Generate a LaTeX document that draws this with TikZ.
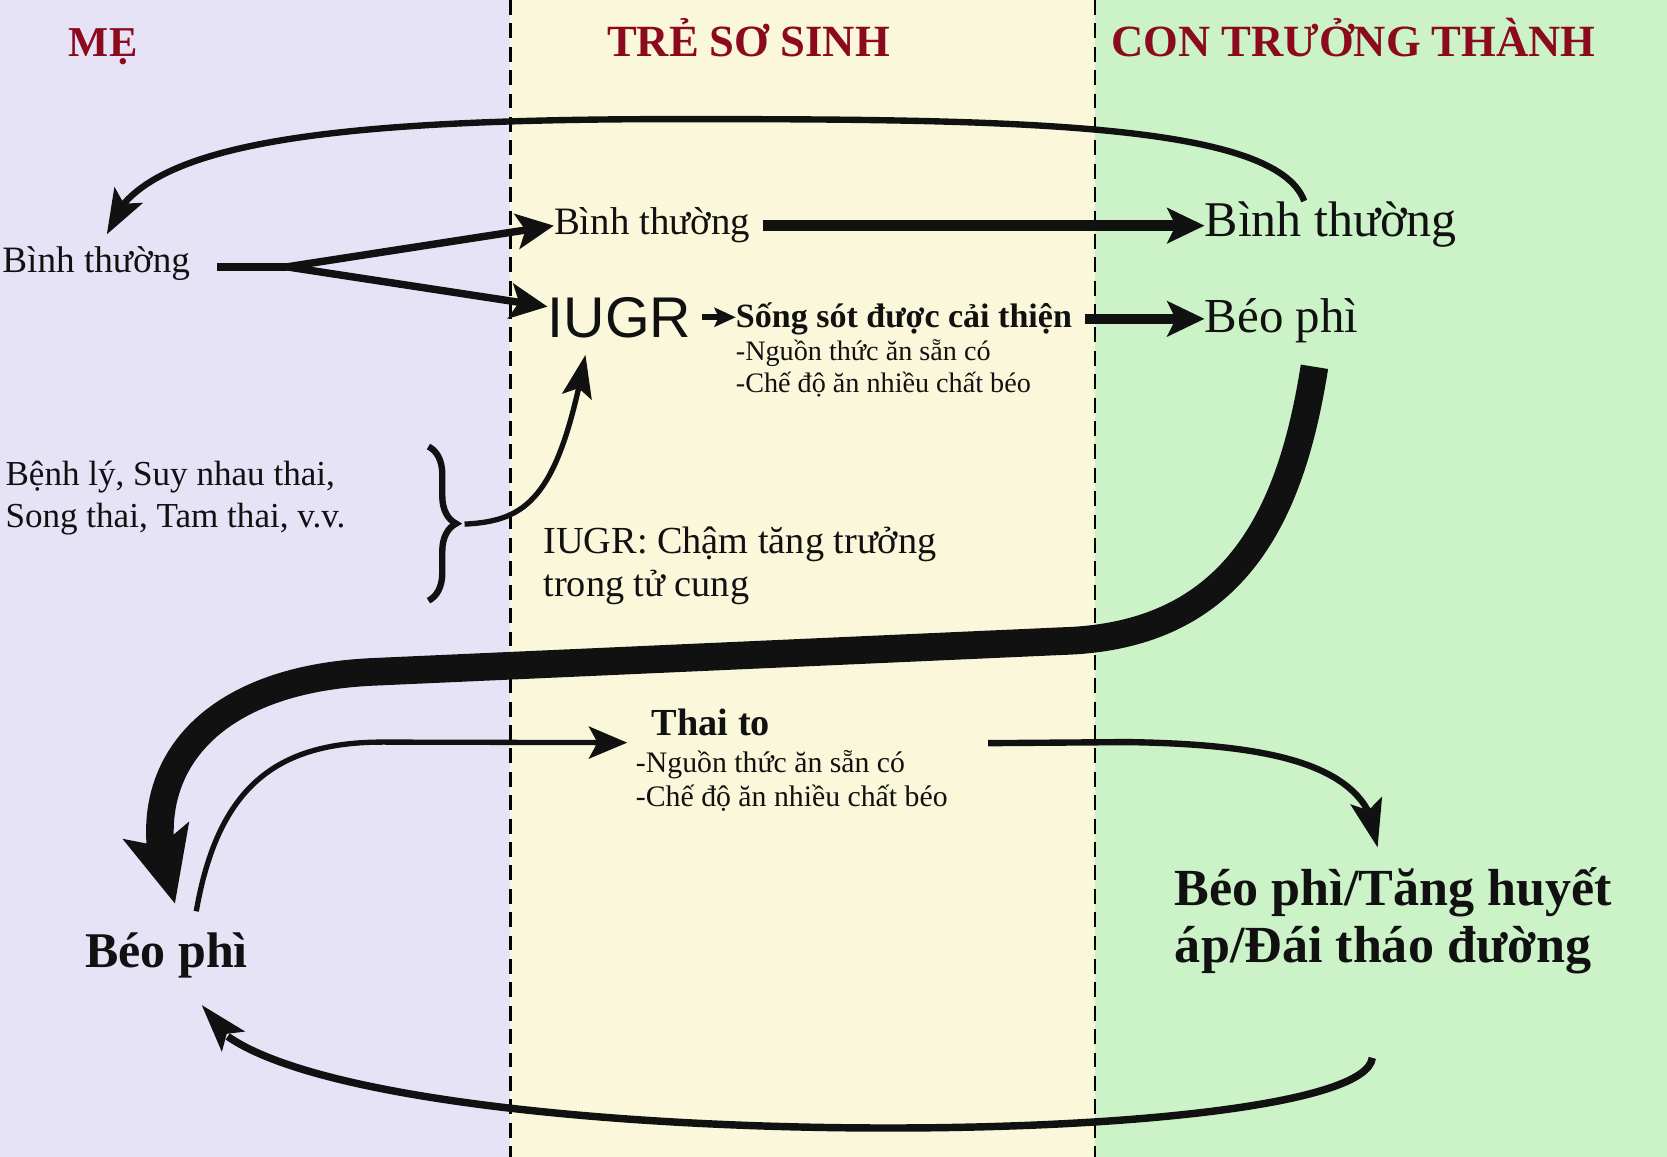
\documentclass[tikz,border=0pt]{standalone}
\usepackage{fontspec}
\setmainfont{Liberation Serif}
\newfontfamily\iugrfont{Liberation Sans}
\usetikzlibrary{arrows.meta,bending,decorations.pathreplacing}
\definecolor{momBg}{HTML}{E6E3F7}
\definecolor{babyBg}{HTML}{FAF7DA}
\definecolor{adultBg}{HTML}{CCF2C8}
\definecolor{titleRed}{HTML}{8B0A1E}
\definecolor{ink}{HTML}{111111}

\begin{document}
\begin{tikzpicture}[x=1pt,y=-1pt,
    every node/.style={inner sep=0pt,text=ink},
    heading/.style={anchor=base,text=titleRed,font=\fontsize{42}{48}\selectfont\bfseries},
    txt/.style={anchor=base west,align=left},
    divider/.style={line width=2.5pt,dash pattern=on 14pt off 8pt},
    link/.style={draw=ink,line width=#1,-{Stealth[length=35pt,width=33pt,inset=8pt]}},
    link/.default=7pt,
    curve/.style={draw=ink,line width=#1,-{Stealth[length=42pt,width=30pt,inset=9pt]}},
    curve/.default=6pt,
    heavy/.style={draw=ink,line width=26pt,-{Stealth[length=70pt,width=62pt,inset=14pt]}}]
  \useasboundingbox (0,0) rectangle (1568,1088);

  % three columns
  \fill[momBg] (0,0) rectangle (480,1088);
  \fill[babyBg] (480,0) rectangle (1030,1088);
  \fill[adultBg] (1030,0) rectangle (1568,1088);
  \draw[divider] (480,0) -- (480,1088);
  \draw[divider] (1030,0) -- (1030,1088);

  \node[heading,font=\fontsize{40}{48}\selectfont\bfseries] (momTitle) at (97,53) {MẸ};
  \node[heading] (babyTitle) at (704,53) {TRẺ SƠ SINH};
  \node[heading] (adultTitle) at (1273,53) {CON TRƯỞNG THÀNH};

  % multi-line nodes sit on their last baseline
  \node[txt,font=\fontsize{35}{40}\selectfont] (momNormal) at (2,256) {Bình thường};
  \node[txt,font=\fontsize{36.5}{40}\selectfont] (babyNormal) at (521,221) {Bình thường};
  \node[txt,font=\iugrfont\fontsize{54}{60}\selectfont] (iugr) at (515,317) {IUGR};
  \node[txt,font=\fontsize{32}{36}\selectfont\bfseries] (survive) at (692,308) {Sống sót được cải thiện};
  \node[txt,font=\fontsize{26.5}{30}\selectfont] (surviveList) at (692,369) {-Nguồn thức ăn sẵn có\\-Chế độ ăn nhiều chất béo};
  \node[txt,font=\fontsize{47}{52}\selectfont] (adultNormal) at (1133,222) {Bình thường};
  \node[txt,font=\fontsize{46}{52}\selectfont] (adultObese) at (1133,313) {Béo phì};
  \node[txt,font=\fontsize{33}{39}\selectfont] (causes) at (5,496) {Bệnh lý, Suy nhau thai,\\Song thai, Tam thai, v.v.};
  \node[txt,font=\fontsize{36}{40}\selectfont] (iugrDef) at (511,561) {IUGR: Chậm tăng trưởng\\trong tử cung};
  \node[txt,font=\fontsize{36}{40}\selectfont\bfseries] (bigBaby) at (613,692) {Thai to};
  \node[txt,font=\fontsize{28}{32}\selectfont] (bigBabyList) at (598,759) {-Nguồn thức ăn sẵn có\\-Chế độ ăn nhiều chất béo};
  \node[txt,font=\fontsize{47}{52}\selectfont\bfseries] (momObese) at (80,910) {Béo phì};
  \node[txt,font=\fontsize{49}{53}\selectfont\bfseries] (adultDisease) at (1105,905) {Béo phì/Tăng huyết\\áp/Đái tháo đường};

  % normal mother
  \coordinate (split) at (270,251);
  \draw[ink,line width=7pt,shorten <=25pt] (momNormal.east |- split) -- (split);
  \draw[link] (split) -- (babyNormal.west);
  \draw[link] (split) -- ([yshift=10pt]iugr.west);
  \draw[link=10pt,shorten <=12pt] (babyNormal.east) -- (babyNormal.east -| adultNormal.west);
  \draw[link=6pt,-{Stealth[length=20pt,width=18pt,inset=4pt]},shorten <=10pt] (iugr.east) -- (iugr.east -| survive.west);
  \draw[link=10pt,shorten <=12pt] (survive.east) -- (survive.east -| adultObese.west);
  \draw[curve] ([xshift=-25pt]adultNormal.north) .. controls (1200,115) and (950,112) .. (640,112)
    .. controls (300,112) and (125,135) .. ([xshift=10pt,yshift=11pt]momNormal.north);

  % causes of IUGR
  \draw[ink,line width=6pt,decorate,decoration={brace,amplitude=26pt}] (403,420) -- (403,565);
  \coordinate (braceTip) at (437,493);
  \draw[curve=5pt,-{Stealth[length=40pt,width=28pt,inset=8pt]}] (braceTip) .. controls (495,490) and (525,470) .. ([xshift=-32pt,yshift=-16pt]iugr.south);

  % obese mother
  \draw[heavy] ([xshift=31pt,yshift=-22pt]adultObese.south) .. controls (1215,480) and (1165,598) .. (1000,603) -- (350,632) .. controls (180,640) and (120,740) .. ([xshift=8pt,yshift=27pt]momObese.north);
  \draw[curve=5pt,-{Stealth[length=36pt,width=30pt,inset=8pt]}] ([xshift=28pt,yshift=20pt]momObese.north) .. controls (205,740) and (260,698) .. (360,698) -- ([xshift=-23pt,yshift=-6pt]bigBaby.south west);
  \draw[curve,-{Stealth[length=45pt,width=30pt,inset=9pt]}] ([xshift=38pt,yshift=7pt]bigBabyList.north east) -- (1060,698) .. controls (1200,700) and (1293,720) .. ([xshift=-15pt,yshift=19pt]adultDisease.north);
  \draw[curve=7pt,-{Stealth[length=45pt,width=28pt,inset=9pt]}] ([xshift=-20pt,yshift=-79pt]adultDisease.south) .. controls (1280,1090) and (230,1090) .. ([xshift=33pt,yshift=-25pt]momObese.south);
\end{tikzpicture}
\end{document}
